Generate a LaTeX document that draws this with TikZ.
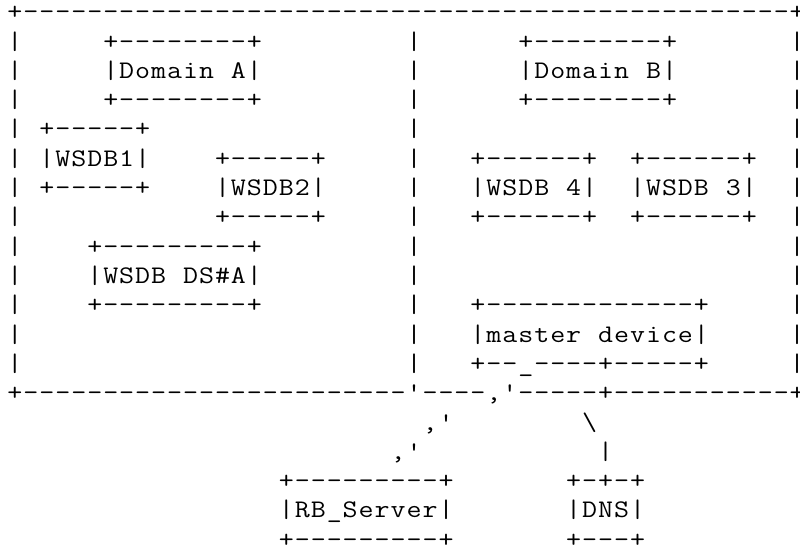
\documentclass[tikz,border=0pt]{standalone}
\usepackage{graphicx}
\usepackage{tikz}

% one fixed-pitch cell per character of the art
\newlength\cellw
\setlength\cellw{0.399cm}
\def\asciiend{\asciiend}
\def\asciido#1{\ifx#1\asciiend\else\makebox[\cellw][c]{\scalebox{1.15}[1]{#1}}\expandafter\asciido\fi}
\newcommand\asciirow[1]{\expandafter\asciido#1\asciiend\kern-.5\cellw}

% the rows, with spaces kept as active characters
\begingroup
\catcode`\ =13\catcode`\#=12\catcode`\_=12%
\gdef {}%
\gdef\rowA{+------------------------------------------------+}%
\gdef\rowB{|     +--------+         |      +--------+       |}%
\gdef\rowC{|     |Domain A|         |      |Domain B|       |}%
\gdef\rowE{| +-----+                |                       |}%
\gdef\rowF{| |WSDB1|    +-----+     |   +------+  +------+  |}%
\gdef\rowG{| +-----+    |WSDB2|     |   |WSDB 4|  |WSDB 3|  |}%
\gdef\rowH{|            +-----+     |   +------+  +------+  |}%
\gdef\rowI{|    +---------+         |                       |}%
\gdef\rowJ{|    |WSDB DS#A|         |                       |}%
\gdef\rowK{|    +---------+         |   +-------------+     |}%
\gdef\rowL{|                        |   |master device|     |}%
\gdef\rowM{|                        |   +--_----+-----+     |}%
\gdef\rowN{+------------------------'----,'-----+-----------+}%
\gdef\rowO{                          ,'        \textbackslash}%
\gdef\rowP{                        ,'           |}%
\gdef\rowQ{                 +---------+       +-+-+}%
\gdef\rowR{                 |RB_Server|       |DNS|}%
\gdef\rowS{                 +---------+       +---+}%
\endgroup

\begin{document}
\begin{tikzpicture}[x=0.025cm, y=-0.025cm,
  artrow/.style={anchor=base west, inner sep=0pt, outer sep=0pt,
                 font=\fontsize{18}{21}\selectfont\ttfamily}]
  \path[fill=white] (0,0) rectangle (800,551);
  \useasboundingbox (0,0) rectangle (800,551);
  \node[artrow] (row1)  at (7,19.8)  {\asciirow\rowA};
  \node[artrow] (row2)  at (7,49.1)  {\asciirow\rowB};
  \node[artrow] (row3)  at (7,78.4)  {\asciirow\rowC};
  \node[artrow] (row4)  at (7,107.7) {\asciirow\rowB};
  \node[artrow] (row5)  at (7,137.0) {\asciirow\rowE};
  \node[artrow] (row6)  at (7,166.3) {\asciirow\rowF};
  \node[artrow] (row7)  at (7,195.6) {\asciirow\rowG};
  \node[artrow] (row8)  at (7,224.9) {\asciirow\rowH};
  \node[artrow] (row9)  at (7,254.2) {\asciirow\rowI};
  \node[artrow] (row10) at (7,283.5) {\asciirow\rowJ};
  \node[artrow] (row11) at (7,312.8) {\asciirow\rowK};
  \node[artrow] (row12) at (7,342.1) {\asciirow\rowL};
  \node[artrow] (row13) at (7,371.4) {\asciirow\rowM};
  \node[artrow] (row14) at (7,400.7) {\asciirow\rowN};
  \node[artrow] (row15) at (7,430.0) {\asciirow\rowO};
  \node[artrow] (row16) at (7,459.3) {\asciirow\rowP};
  \node[artrow] (row17) at (7,488.6) {\asciirow\rowQ};
  \node[artrow] (row18) at (7,517.9) {\asciirow\rowR};
  \node[artrow] (row19) at (7,547.2) {\asciirow\rowS};
\end{tikzpicture}
\end{document}
